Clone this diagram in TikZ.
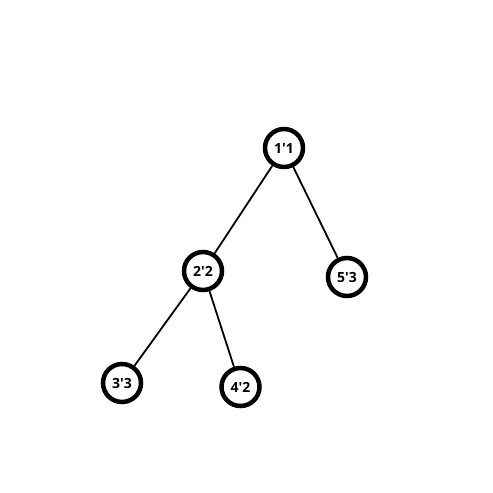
\documentclass[tikz,border=0pt]{standalone}
\usepackage{fontspec}
\setsansfont{Open Sans}
\usetikzlibrary{positioning}

\newcommand{\tick}{\textquotesingle}

\begin{document}
\begin{tikzpicture}[
        on grid,
        font=\sffamily\bfseries\fontsize{14}{16}\selectfont,
        vertex/.style = {
            draw=black,
            fill=white,
            circle,
            line width=4.5pt,
            minimum size=38pt,
            inner sep=0pt
        },
        edge/.style = {
            draw=black,
            line width=1.8pt
        }
    ]

        \useasboundingbox (0pt,0pt) rectangle (493pt,-493pt);

        \node[vertex] (n11) at (284pt,-148pt) {1\tick1};

        \node[vertex, below left=123pt and 81pt of n11] (n22) {2\tick2};
        \node[vertex, below right=129pt and 63pt of n11] (n53) {5\tick3};

        \node[vertex, below left=112pt and 81pt of n22] (n33) {3\tick3};
        \node[vertex, below right=116pt and 37.5pt of n22] (n42) {4\tick2};

        \draw[edge] (n11) -- (n22);
        \draw[edge] (n11) -- (n53);
        \draw[edge] (n22) -- (n33);
        \draw[edge] (n22) -- (n42);

    \end{tikzpicture}
\end{document}
